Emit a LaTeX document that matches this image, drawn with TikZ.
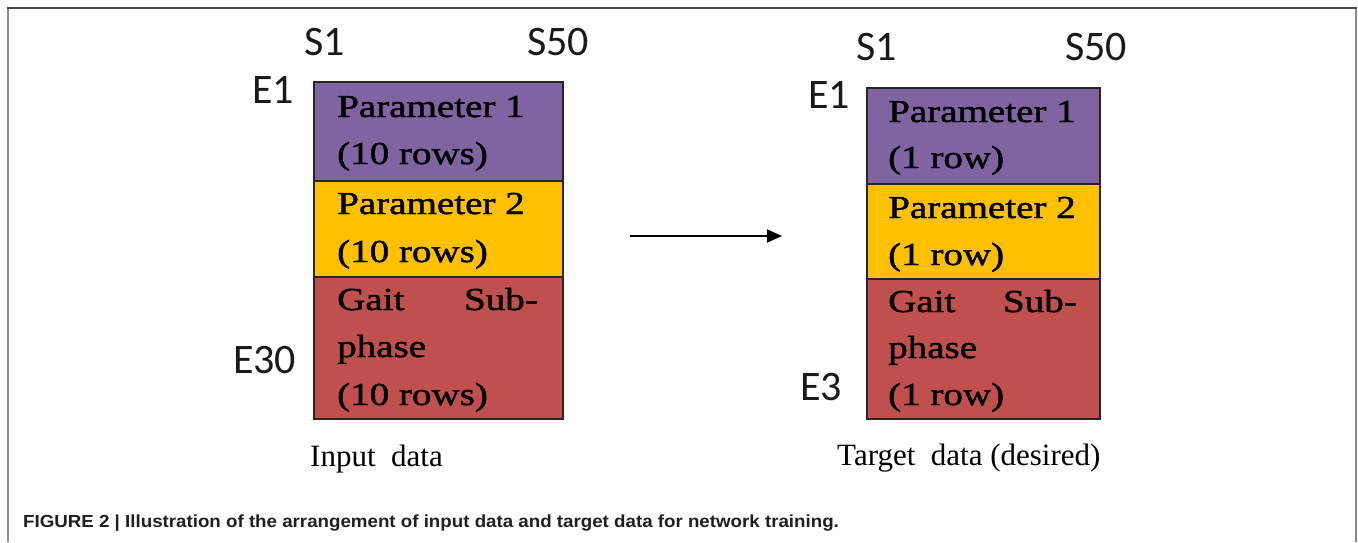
\documentclass[tikz,border=0pt]{standalone}
\usepackage{fontspec}
\setmainfont{Liberation Serif}
\newfontfamily\boxfont[FakeStretch=1.22,FakeBold=1.5]{Liberation Serif}
\newfontfamily\labfont{Carlito}
\newfontfamily\capfont[FakeStretch=1.07]{Liberation Sans}
\usetikzlibrary{arrows.meta}
\definecolor{purp}{HTML}{8064A2}
\definecolor{gold}{HTML}{FFC000}
\definecolor{redsec}{HTML}{C0504D}
\definecolor{edge}{HTML}{262626}
\definecolor{framedark}{HTML}{4A4A4A}
\definecolor{framelight}{HTML}{8A8A8A}
\begin{document}
\begin{tikzpicture}[x=1pt,y=-1pt,
  sec/.style={draw=edge, line width=2.4pt, inner sep=0pt, anchor=north west},
  btxt/.style={font=\boxfont\fontsize{32pt}{32pt}\selectfont, inner sep=0pt, text=black},
  ltxt/.style={font=\labfont\fontsize{42pt}{42pt}\selectfont, inner sep=0pt, text=black!90},
  ctxt/.style={font=\fontsize{31pt}{31pt}\selectfont, inner sep=0pt, text=black},
  captxt/.style={font=\capfont\bfseries\fontsize{17.5pt}{17.5pt}\selectfont, inner sep=0pt, text=black!88},
  conn/.style={line width=2pt, -{Triangle[length=15pt,width=13pt]}}
]
\useasboundingbox (0,0) rectangle (1358,542);
% frame (open at the bottom)
\draw[framelight, line width=2pt] (7.5,542) -- (7.5,8);
\draw[framelight, line width=2pt] (1356,542) -- (1356,8);
\draw[framedark, line width=2pt] (6.5,8) -- (1357,8);

% ---------- input data ----------
\node[sec, fill=purp, minimum width=249pt, minimum height=99pt] (lp1) at (313,81) {};
\node[sec, fill=gold, minimum width=249pt, minimum height=96pt] (lp2) at (313,180) {};
\node[sec, fill=redsec, minimum width=249pt, minimum height=142pt] (lg) at (313,276) {};

\node[btxt, anchor=base west] (lp1a) at (337,117) {Parameter 1};
\node[btxt, anchor=base west] (lp1b) at (337,164) {(10 rows)};
\node[btxt, anchor=base west] (lp2a) at (337,214) {Parameter 2};
\node[btxt, anchor=base west] (lp2b) at (337,262) {(10 rows)};
\node[btxt, anchor=base west] (lga) at (337,310) {Gait};
\node[btxt, anchor=base east] (lgb) at (538,310) {Sub-};
\node[btxt, anchor=base west] (lgc) at (337,357) {phase};
\node[btxt, anchor=base west] (lgd) at (337,405) {(10 rows)};

\node[ltxt, anchor=base] (ls1) at (325,55) {S1};
\node[ltxt, anchor=base] (ls50) at (558,55) {S50};
\node[ltxt, anchor=base west] (le1) at (252,103) {E1};
\node[ltxt, anchor=base west] (le30) at (233,373) {E30};
\node[ctxt, anchor=base west] (lcap) at (310,466) {Input\ \ data};

% ---------- target data ----------
\node[sec, fill=purp, minimum width=233pt, minimum height=96pt] (rp1) at (866,87) {};
\node[sec, fill=gold, minimum width=233pt, minimum height=95pt] (rp2) at (866,183) {};
\node[sec, fill=redsec, minimum width=233pt, minimum height=140pt] (rg) at (866,278) {};

\node[btxt, anchor=base west] (rp1a) at (888,122) {Parameter 1};
\node[btxt, anchor=base west] (rp1b) at (888,168) {(1 row)};
\node[btxt, anchor=base west] (rp2a) at (888,218) {Parameter 2};
\node[btxt, anchor=base west] (rp2b) at (888,265) {(1 row)};
\node[btxt, anchor=base west] (rga) at (888,312) {Gait};
\node[btxt, anchor=base east] (rgb) at (1077,312) {Sub-};
\node[btxt, anchor=base west] (rgc) at (888,358) {phase};
\node[btxt, anchor=base west] (rgd) at (888,405) {(1 row)};

\node[ltxt, anchor=base] (rs1) at (877,60) {S1};
\node[ltxt, anchor=base] (rs50) at (1096,60) {S50};
\node[ltxt, anchor=base west] (re1) at (808,108) {E1};
\node[ltxt, anchor=base west] (re3) at (800,400) {E3};
\node[ctxt, anchor=base west] (rcap) at (837,465) {Target\ \ data (desired)};

% ---------- arrow ----------
\coordinate (arA) at (630,236);
\coordinate (arB) at (782,236);
\draw[conn] (arA) -- (arB);

% ---------- caption ----------
\node[captxt, anchor=base west] (fig) at (23,527.5) {FIGURE 2 | Illustration of the arrangement of input data and target data for network training.};
\end{tikzpicture}
\end{document}
